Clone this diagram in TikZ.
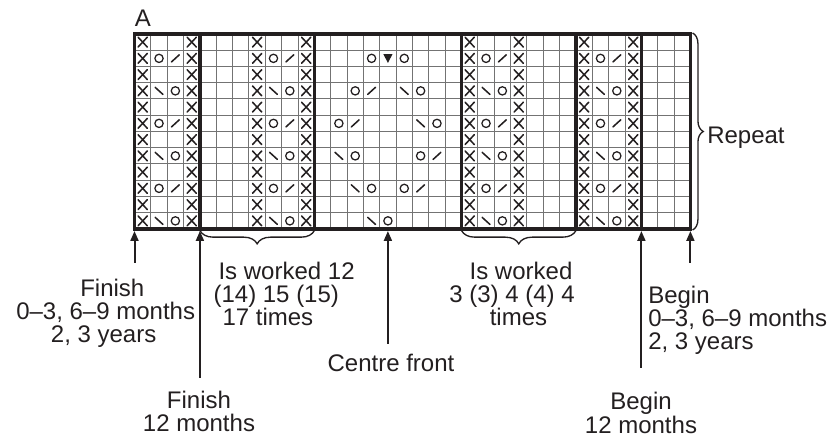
\documentclass[tikz,border=0pt]{standalone}
\usepackage{fontspec}
\setmainfont{Liberation Sans}
\usetikzlibrary{arrows.meta,decorations.pathreplacing}
\definecolor{ink}{HTML}{231F20}
\begin{document}
\begin{tikzpicture}[x=0.75pt,y=-0.75pt,
  thingrid/.style={line width=0.75pt, draw=black!55},
  thickgrid/.style={line width=2.4pt, draw=ink},
  sym/.style={line width=1.15pt, draw=ink, line cap=round},
  arr/.style={line width=1.5pt, draw=ink, -{Triangle[length=7.5pt,width=6pt]}},
  brc/.style={line width=1pt, draw=ink, decorate, decoration={brace, amplitude=10pt}},
  lbl/.style={inner sep=0pt, text=ink, font=\fontsize{18}{17.6}\selectfont},
  kx/.pic={\draw[sym] (-0.28,-0.3)--(0.28,0.3) (-0.28,0.3)--(0.28,-0.3);},
  ko/.pic={\draw[sym, line width=0.95pt] (0,0) circle[radius=3.1pt];},
  ksl/.pic={\draw[sym] (-0.24,0.22)--(0.24,-0.22);},
  kbs/.pic={\draw[sym] (-0.24,-0.22)--(0.24,0.22);},
  ktri/.pic={\fill[ink] (-0.28,-0.26)--(0.28,-0.26)--(0,0.28)--cycle;}
]
\useasboundingbox (0,0) rectangle (835,441);
\begin{scope}[shift={(134.5,34)}, x=12.2625pt, y=-12.1875pt]
  \foreach \c in {1,...,33} \draw[thingrid] (\c,0) -- (\c,12);
  \foreach \r in {1,...,11} \draw[thingrid] (0,\r) -- (34,\r);
  \foreach \c in {0,3,7,10,20,23,27,30}
    \foreach \r in {1,...,12} \pic at (\c+0.5,\r-0.5) {kx};
  \foreach \c in {1,8,21,28} {
    \foreach \r in {2,6,10} {\pic at (\c+0.5,\r-0.5) {ko}; \pic at (\c+1.5,\r-0.5) {ksl};}
    \foreach \r in {4,8,12} {\pic at (\c+0.5,\r-0.5) {kbs}; \pic at (\c+1.5,\r-0.5) {ko};}
  }
  \foreach \c/\r in {14/2,16/2,13/4,17/4,12/6,18/6,13/8,17/8,14/10,16/10,15/12}
    \pic at (\c+0.5,\r-0.5) {ko};
  \foreach \c/\r in {14/4,13/6,18/8,17/10}
    \pic at (\c+0.5,\r-0.5) {ksl};
  \foreach \c/\r in {16/4,17/6,12/8,13/10,14/12}
    \pic at (\c+0.5,\r-0.5) {kbs};
  \pic at (15.5,1.5) {ktri};
  \foreach \c in {4,11,20,27,31} \draw[thickgrid] (\c,0) -- (\c,12);
  \draw[thickgrid, line join=miter] (0,0) rectangle (34,12);
\end{scope}

% arrow coordinates
\coordinate (h1) at (134.5,231);  \coordinate (t1) at (134.5,263);
\coordinate (h2) at (199.9,231);  \coordinate (t2) at (199.9,378);
\coordinate (h3) at (387.9,231);  \coordinate (t3) at (387.9,344);
\coordinate (h4) at (641.4,231);  \coordinate (t4) at (641.4,368);
\coordinate (h5) at (690.4,231);  \coordinate (t5) at (690.4,263);
\draw[arr] (t1) -- (h1);
\draw[arr] (t2) -- (h2);
\draw[arr] (t3) -- (h3);
\draw[arr] (t4) -- (h4);
\draw[arr] (t5) -- (h5);

% braces
\coordinate (b1r) at (314.4,230.5); \coordinate (b1l) at (199.9,230.5);
\coordinate (b2r) at (576.0,230.5); \coordinate (b2l) at (461.5,230.5);
\coordinate (rt) at (692.6,33);     \coordinate (rb) at (692.6,230);
\draw[brc] (b1r) -- (b1l);
\draw[brc] (b2r) -- (b2l);
\draw[brc, decoration={brace, amplitude=8pt}] (rt) -- (rb);

% labels (base anchor = baseline of the last line)
\node[lbl, anchor=base west] (labA) at (134.5,27) {A};
\node[lbl, anchor=base west] (labrep) at (707,144) {Repeat};
\node[lbl, anchor=base west, align=left] (labfin1) at (16,343)
  {\hspace*{48pt}Finish\\0–3, 6–9 months\\\hspace*{26pt}2, 3 years};
\node[lbl, anchor=base west, align=left] (labwork1) at (213.3,326)
  {\hspace*{3.75pt}Is worked 12\\(14) 15 (15)\\\hspace*{6.75pt}17 times};
\node[lbl, anchor=base west, align=left] (labwork2) at (449,326)
  {\hspace*{15.3pt}Is worked\\3 (3) 4 (4) 4\\\hspace*{30.4pt}times};
\node[lbl, anchor=base] (labcf) at (391,372) {Centre front};
\node[lbl, anchor=base, align=center] (labfin2) at (199,431.5) {Finish\\12 months};
\node[lbl, anchor=base west, align=left] (labbeg1) at (648,350)
  {Begin\\0–3, 6–9 months\\2, 3 years};
\node[lbl, anchor=base, align=center] (labbeg2) at (641,433) {Begin\\12 months};
\end{tikzpicture}
\end{document}
